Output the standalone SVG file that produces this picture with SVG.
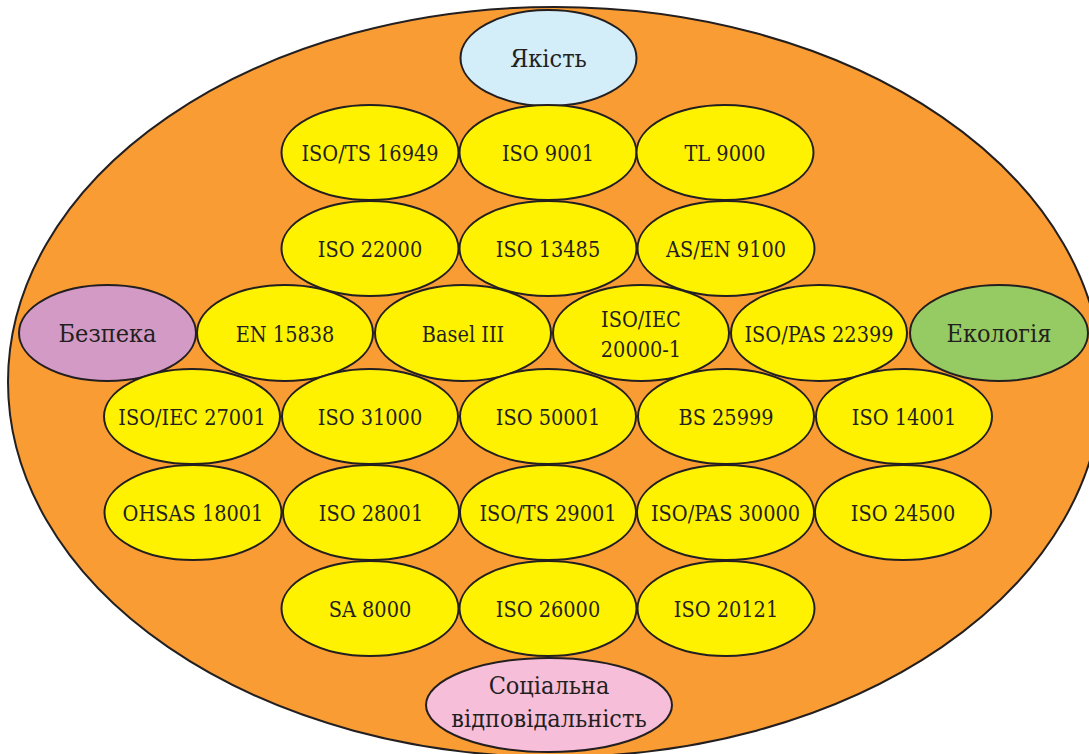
<svg xmlns="http://www.w3.org/2000/svg" width="1089" height="754" viewBox="0 0 1089 754">
<style>
.n{fill:#FFF200;stroke:#231F20;stroke-width:2}
.t{font-family:"DejaVu Serif Condensed","DejaVu Serif","Liberation Serif",serif;font-stretch:condensed;font-size:21.5px;fill:#231F20;text-anchor:middle}
.c{font-size:25px}
</style>
<rect width="1089" height="754" fill="#FFFFFF"/>
<g id="background">
<ellipse cx="555" cy="382" rx="547" ry="375" fill="#F89C33" stroke="#231F20" stroke-width="2"/>
</g>
<g id="quality"><ellipse cx="548.5" cy="58" rx="88" ry="48" fill="#D3EDF9" stroke="#231F20" stroke-width="2"/><text class="t c" x="548.5" y="67">Якість</text></g>
<g id="n-iso-ts-16949"><ellipse class="n" cx="370" cy="152.5" rx="88.5" ry="47.5"/><text class="t" x="370" y="161">ISO/TS 16949</text></g>
<g id="n-iso-9001"><ellipse class="n" cx="548" cy="152.5" rx="88.5" ry="47.5"/><text class="t" x="548" y="161">ISO 9001</text></g>
<g id="n-tl-9000"><ellipse class="n" cx="725" cy="152.5" rx="88.5" ry="47.5"/><text class="t" x="725" y="161">TL 9000</text></g>
<g id="n-iso-22000"><ellipse class="n" cx="370" cy="248.5" rx="88.5" ry="47.5"/><text class="t" x="370" y="257">ISO 22000</text></g>
<g id="n-iso-13485"><ellipse class="n" cx="548" cy="248.5" rx="88.5" ry="47.5"/><text class="t" x="548" y="257">ISO 13485</text></g>
<g id="n-as-en-9100"><ellipse class="n" cx="726" cy="248.5" rx="88.5" ry="47.5"/><text class="t" x="726" y="257">AS/EN 9100</text></g>
<g id="safety"><ellipse cx="107.5" cy="333" rx="88.5" ry="48" fill="#D39AC5" stroke="#231F20" stroke-width="2"/><text class="t c" x="107.5" y="342">Безпека</text></g>
<g id="n-en-15838"><ellipse class="n" cx="285" cy="333" rx="88" ry="48"/><text class="t" x="285" y="341.5">EN 15838</text></g>
<g id="n-basel-iii"><ellipse class="n" cx="463" cy="333" rx="88" ry="48"/><text class="t" x="463" y="341.5">Basel III</text></g>
<g id="n-iso-iec-20000-1"><ellipse class="n" cx="641" cy="333" rx="88" ry="48"/><text class="t" x="641" y="326.5">ISO/IEC</text><text class="t" x="641" y="356.5">20000-1</text></g>
<g id="n-iso-pas-22399"><ellipse class="n" cx="819" cy="333" rx="88" ry="48"/><text class="t" x="819" y="341.5">ISO/PAS 22399</text></g>
<g id="ecology"><ellipse cx="999" cy="333" rx="89" ry="48" fill="#96CB63" stroke="#231F20" stroke-width="2"/><text class="t c" x="999" y="342">Екологія</text></g>
<g id="n-iso-iec-27001"><ellipse class="n" cx="192" cy="416.5" rx="88" ry="47.5"/><text class="t" x="192" y="425">ISO/IEC 27001</text></g>
<g id="n-iso-31000"><ellipse class="n" cx="370" cy="416.5" rx="88" ry="47.5"/><text class="t" x="370" y="425">ISO 31000</text></g>
<g id="n-iso-50001"><ellipse class="n" cx="548" cy="416.5" rx="88" ry="47.5"/><text class="t" x="548" y="425">ISO 50001</text></g>
<g id="n-bs-25999"><ellipse class="n" cx="726" cy="416.5" rx="88" ry="47.5"/><text class="t" x="726" y="425">BS 25999</text></g>
<g id="n-iso-14001"><ellipse class="n" cx="904" cy="416.5" rx="88" ry="47.5"/><text class="t" x="904" y="425">ISO 14001</text></g>
<g id="n-ohsas-18001"><ellipse class="n" cx="193" cy="512.5" rx="88.5" ry="47.5"/><text class="t" x="193" y="521">OHSAS 18001</text></g>
<g id="n-iso-28001"><ellipse class="n" cx="371" cy="512.5" rx="88" ry="47.5"/><text class="t" x="371" y="521">ISO 28001</text></g>
<g id="n-iso-ts-29001"><ellipse class="n" cx="548" cy="512.5" rx="88" ry="47.5"/><text class="t" x="548" y="521">ISO/TS 29001</text></g>
<g id="n-iso-pas-30000"><ellipse class="n" cx="725.5" cy="512.5" rx="88.5" ry="47.5"/><text class="t" x="725.5" y="521">ISO/PAS 30000</text></g>
<g id="n-iso-24500"><ellipse class="n" cx="903" cy="512.5" rx="88" ry="47.5"/><text class="t" x="903" y="521">ISO 24500</text></g>
<g id="n-sa-8000"><ellipse class="n" cx="370" cy="608.5" rx="88.5" ry="47.5"/><text class="t" x="370" y="617">SA 8000</text></g>
<g id="n-iso-26000"><ellipse class="n" cx="548" cy="608.5" rx="88.5" ry="47.5"/><text class="t" x="548" y="617">ISO 26000</text></g>
<g id="n-iso-20121"><ellipse class="n" cx="726" cy="608.5" rx="88.5" ry="47.5"/><text class="t" x="726" y="617">ISO 20121</text></g>
<g id="social"><ellipse cx="549" cy="705" rx="123" ry="47" fill="#F7BEDA" stroke="#231F20" stroke-width="2"/><text class="t c" x="549" y="694">Соціальна</text><text class="t c" x="549" y="727">відповідальність</text></g>
</svg>
